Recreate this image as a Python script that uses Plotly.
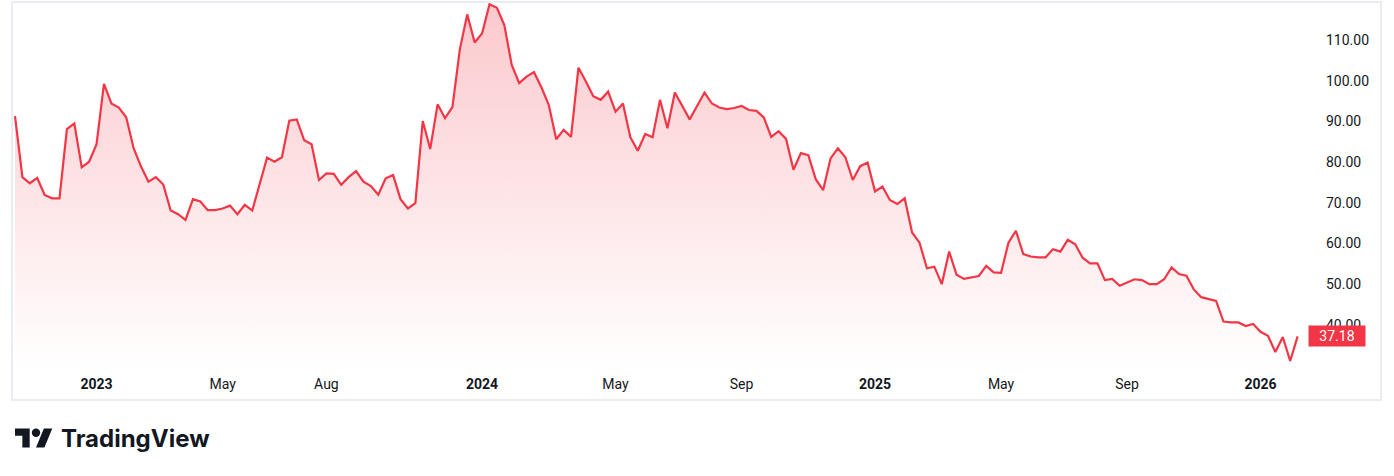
import pandas as pd
import plotly.graph_objects as go

# ---- data (weekly closes) ----
start_date = "2022-10-17"
prices = [
    91.3, 76.3, 74.8, 76.1, 71.9, 71.1, 71.1, 88.1, 89.5, 78.7,
    80.1, 84.4, 99.2, 94.4, 93.4, 91.0, 83.4, 78.9, 75.2, 76.3,
    74.5, 68.1, 67.2, 65.8, 70.9, 70.3, 68.2, 68.2, 68.6, 69.3,
    67.2, 69.5, 68.1, 74.8, 81.1, 80.1, 81.2, 90.2, 90.5, 85.4,
    84.4, 75.6, 77.2, 77.1, 74.4, 76.3, 77.8, 75.2, 74.1, 72.0,
    76.0, 76.8, 70.9, 68.6, 69.9, 90.1, 83.2, 94.2, 90.8, 93.5,
    107.7, 116.3, 109.4, 111.6, 118.8, 117.9, 113.7, 103.9, 99.4, 101.0,
    102.1, 98.4, 94.0, 85.6, 87.9, 86.2, 103.2, 99.8, 96.2, 95.3,
    97.3, 92.4, 94.4, 86.1, 82.8, 86.9, 86.1, 95.3, 88.3, 97.1,
    93.6, 90.5, 93.8, 97.1, 94.4, 93.4, 93.0, 93.3, 93.8, 92.8,
    92.6, 91.0, 86.2, 87.6, 85.7, 78.1, 82.2, 81.7, 75.8, 73.1,
    80.9, 83.4, 81.2, 75.6, 79.0, 79.9, 72.8, 74.0, 70.7, 69.7,
    71.1, 62.7, 60.2, 53.9, 54.3, 50.0, 58.0, 52.3, 51.3, 51.7,
    52.0, 54.5, 52.9, 52.8, 60.2, 63.1, 57.4, 56.8, 56.6, 56.6,
    58.6, 58.0, 60.9, 59.8, 56.5, 55.1, 55.1, 51.0, 51.3, 49.6,
    50.4, 51.2, 51.0, 50.0, 50.0, 51.2, 54.1, 52.5, 52.1, 48.7,
    46.8, 46.3, 45.9, 40.8, 40.6, 40.6, 39.7, 40.2, 38.3, 37.3,
    33.3, 37.0, 31.1, 37.18,
]
dates = pd.date_range(start_date, periods=len(prices), freq="7D")

x_tick_dates = ["2023-01-02", "2023-05-01", "2023-08-07", "2024-01-01", "2024-05-06",
                "2024-09-02", "2025-01-06", "2025-05-05", "2025-09-01", "2026-01-05"]
x_tick_text = ["<b>2023</b>", "May", "Aug", "<b>2024</b>", "May",
               "Sep", "<b>2025</b>", "May", "Sep", "<b>2026</b>"]
y_tick_vals = [40, 50, 60, 70, 80, 90, 100, 110]
y_tick_text = [f"{v:.2f}" for v in y_tick_vals]
last_label = "37.18"

# ---- layout geometry ----
W, H = 1394, 476
ML, MR, MT, MB = 13, 87, 3, 106
PW, PH = W - ML - MR, H - MT - MB
PLOT_BOTTOM = H - MB

def px(xp):
    return (xp - ML) / PW

def py(yp):
    return (PLOT_BOTTOM - yp) / PH

PX_PER_DAY = 7.414 / 7.0
first = dates[0]
x_range = [first + pd.Timedelta(days=(ML - 15) / PX_PER_DAY),
           first + pd.Timedelta(days=(ML + PW - 15) / PX_PER_DAY)]
y_range = [28.9, 119.1]

RED = "#F23645"
TXT = "#131722"
FONT = "Roboto, Arial, sans-serif"

fig = go.Figure()
fig.add_trace(go.Scatter(
    x=dates, y=prices, mode="lines",
    line=dict(color=RED, width=2.2),
    fill="tozeroy",
    fillgradient=dict(type="vertical", start=y_range[0], stop=y_range[1],
                      colorscale=[[0, "rgba(242,54,69,0.0)"], [1, "rgba(242,54,69,0.27)"]]),
    hoverinfo="skip", showlegend=False,
))

shapes = [
    dict(type="rect", xref="paper", yref="paper",
         x0=px(12), x1=px(1381), y0=py(400), y1=py(2),
         line=dict(color="#E9ECF1", width=2), fillcolor="rgba(0,0,0,0)", layer="above"),
]

# TradingView logo icon (svg viewBox 36x28), placed in pixel space
def logo_path(scale, ox, oy):
    def P(x, y):
        return f"{px(ox + scale * x):.6f},{py(oy + scale * (y - 4)):.6f}"
    p1 = f"M{P(14,22)} L{P(7,22)} L{P(7,11)} L{P(0,11)} L{P(0,4)} L{P(14,4)} Z"
    p2 = f"M{P(28,22)} L{P(20,22)} L{P(27.5,4)} L{P(35.5,4)} Z"
    return p1 + " " + p2

s, ox, oy = 1.05, 15, 428.5
shapes.append(dict(type="path", xref="paper", yref="paper", path=logo_path(s, ox, oy),
                   fillcolor=TXT, line=dict(width=0), layer="above"))
cx, cy, r = ox + s * 20, oy + s * (8 - 4), s * 4
shapes.append(dict(type="circle", xref="paper", yref="paper",
                   x0=px(cx - r), x1=px(cx + r), y0=py(cy + r), y1=py(cy - r),
                   fillcolor=TXT, line=dict(width=0), layer="above"))

annotations = [
    dict(xref="paper", yref="y", x=px(1308), y=prices[-1], xanchor="left", yanchor="middle",
         text=last_label, showarrow=False, bgcolor=RED, font=dict(color="white", size=14, family=FONT),
         width=54, height=18, borderpad=1, align="center"),
    dict(xref="paper", yref="paper", x=px(59), y=py(438), xanchor="left", yanchor="middle",
         text="<b>TradingView</b>", showarrow=False,
         font=dict(color=TXT, size=24, family="Inter, Roboto, sans-serif")),
]

fig.update_layout(
    width=W, height=H,
    margin=dict(l=ML, r=MR, t=MT, b=MB),
    paper_bgcolor="white", plot_bgcolor="white",
    font=dict(family=FONT, size=14, color=TXT),
    shapes=shapes, annotations=annotations,
    xaxis=dict(range=x_range, tickmode="array", tickvals=pd.to_datetime(x_tick_dates),
               ticktext=x_tick_text, showgrid=False, zeroline=False, showline=False,
               ticks="", ticklabelstandoff=4, tickfont=dict(size=14, color=TXT)),
    yaxis=dict(range=y_range, side="right", tickmode="array", tickvals=y_tick_vals,
               ticktext=y_tick_text, showgrid=False, zeroline=False, showline=False,
               ticks="", ticklabelstandoff=18, tickfont=dict(size=14, color=TXT)),
)

fig.write_html("out.html", config={"displayModeBar": False},
               post_script="document.body.style.margin='0px';")
